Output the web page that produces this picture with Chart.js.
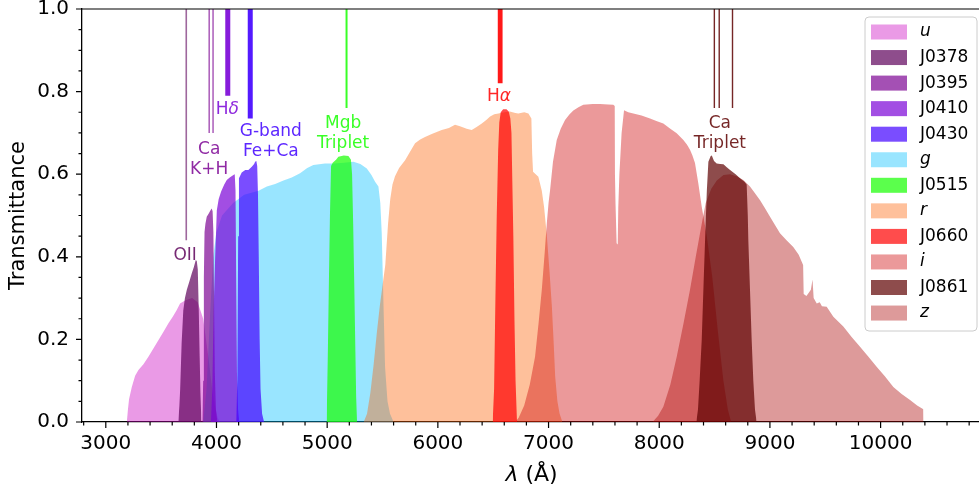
<!DOCTYPE html>
<html>
<head>
<meta charset="utf-8">
<script src="https://cdn.jsdelivr.net/npm/chart.js@4.4.1/dist/chart.umd.min.js"></script>
<style>
  html, body { margin: 0; padding: 0; background: #fff; overflow: hidden; }
</style>
</head>
<body>
<canvas id="filters" width="982" height="490"></canvas>
<script>
// transmission curves, [wavelength (A), transmittance]
const uCurve = [[3190,0],[3200,0.03],[3210,0.055],[3235,0.085],[3265,0.112],[3295,0.126],[3340,0.14],[3385,0.158],[3430,0.178],[3475,0.198],[3520,0.218],[3566,0.239],[3605,0.255],[3641,0.271],[3671,0.287],[3720,0.295],[3780,0.3],[3830,0.29],[3880,0.25],[3930,0.15],[3970,0.06],[4010,0.01],[4030,0]];
const j0378Curve = [[3655,0],[3665,0.04],[3672,0.08],[3685,0.19],[3700,0.27],[3715,0.3],[3732,0.32],[3755,0.34],[3777,0.36],[3795,0.375],[3813,0.392],[3822,0.39],[3831,0.37],[3840,0.27],[3848,0.16],[3855,0.07],[3864,0]];
const j0395Curve = [[3872,0],[3880,0.1],[3886,0.35],[3892,0.46],[3900,0.48],[3912,0.497],[3930,0.505],[3945,0.512],[3957,0.517],[3965,0.51],[3972,0.46],[3978,0.3],[3985,0.12],[3995,0.03],[4008,0]];
const j0410Curve = [[3950,0],[3962,0.08],[3975,0.28],[3987,0.39],[4003,0.513],[4020,0.54],[4042,0.558],[4070,0.575],[4093,0.586],[4120,0.592],[4153,0.598],[4165,0.6],[4172,0.56],[4178,0.35],[4185,0.12],[4195,0.03],[4205,0]];
const j0430Curve = [[4178,0],[4188,0.1],[4196,0.45],[4203,0.59],[4228,0.604],[4260,0.61],[4288,0.61],[4319,0.618],[4340,0.625],[4349,0.63],[4360,0.632],[4368,0.62],[4375,0.55],[4382,0.4],[4390,0.2],[4398,0.08],[4412,0.02],[4430,0]];
const gCurve = [[3880,0],[3910,0.08],[3940,0.25],[3970,0.4],[4000,0.46],[4050,0.5],[4150,0.53],[4250,0.55],[4380,0.56],[4455,0.57],[4530,0.576],[4605,0.585],[4680,0.592],[4755,0.602],[4820,0.615],[4875,0.622],[4980,0.626],[5056,0.626],[5150,0.628],[5237,0.63],[5300,0.625],[5358,0.614],[5400,0.598],[5433,0.582],[5463,0.57],[5480,0.53],[5493,0.457],[5508,0.295],[5523,0.134],[5545,0.05],[5568,0.02],[5600,0]];
const j0515Curve = [[4995,0],[5005,0.15],[5015,0.33],[5025,0.5],[5035,0.62],[5050,0.628],[5080,0.635],[5101,0.642],[5150,0.645],[5192,0.644],[5215,0.635],[5225,0.6],[5235,0.48],[5245,0.33],[5255,0.17],[5262,0.06],[5270,0]];
const rCurve = [[5330,0],[5360,0.02],[5390,0.07],[5420,0.14],[5450,0.22],[5475,0.28],[5495,0.32],[5525,0.38],[5550,0.48],[5570,0.54],[5590,0.575],[5613,0.595],[5650,0.615],[5704,0.634],[5750,0.655],[5794,0.675],[5840,0.684],[5884,0.69],[5950,0.698],[6035,0.707],[6100,0.712],[6155,0.72],[6200,0.716],[6260,0.71],[6306,0.707],[6350,0.714],[6397,0.723],[6440,0.732],[6472,0.74],[6510,0.745],[6547,0.747],[6600,0.75],[6650,0.752],[6700,0.748],[6727,0.747],[6780,0.75],[6818,0.747],[6845,0.735],[6852,0.65],[6860,0.606],[6908,0.594],[6939,0.56],[6960,0.52],[6985,0.45],[7010,0.36],[7030,0.28],[7045,0.2],[7060,0.11],[7080,0.05],[7100,0.02],[7125,0]];
const j0660Curve = [[6495,0],[6508,0.08],[6520,0.3],[6532,0.5],[6545,0.66],[6555,0.725],[6568,0.75],[6590,0.757],[6620,0.757],[6640,0.752],[6655,0.735],[6665,0.7],[6673,0.58],[6682,0.45],[6692,0.25],[6702,0.1],[6715,0]];
const iCurve = [[6700,0],[6730,0.01],[6780,0.04],[6830,0.09],[6878,0.158],[6910,0.24],[6939,0.32],[6965,0.41],[6984,0.48],[7000,0.53],[7014,0.562],[7040,0.63],[7074,0.683],[7110,0.71],[7149,0.731],[7190,0.745],[7224,0.754],[7270,0.762],[7314,0.768],[7400,0.77],[7465,0.77],[7540,0.769],[7585,0.768],[7598,0.765],[7600,0.6],[7605,0.53],[7615,0.433],[7625,0.43],[7630,0.52],[7640,0.6],[7660,0.7],[7682,0.755],[7720,0.75],[7766,0.747],[7840,0.742],[7917,0.735],[7980,0.728],[8037,0.723],[8100,0.71],[8158,0.699],[8218,0.683],[8250,0.672],[8278,0.659],[8300,0.645],[8323,0.627],[8353,0.578],[8384,0.521],[8430,0.45],[8480,0.35],[8530,0.22],[8580,0.1],[8620,0.03],[8650,0]];
const j0861Curve = [[8335,0],[8350,0.03],[8365,0.1],[8384,0.2],[8400,0.33],[8414,0.44],[8430,0.56],[8444,0.63],[8465,0.644],[8475,0.645],[8495,0.632],[8519,0.626],[8550,0.625],[8580,0.624],[8610,0.617],[8640,0.61],[8690,0.6],[8730,0.59],[8770,0.582],[8790,0.575],[8800,0.5],[8805,0.44],[8820,0.32],[8835,0.2],[8850,0.1],[8865,0.03],[8880,0]];
const zCurve = [[7940,0],[7990,0.015],[8037,0.037],[8100,0.09],[8158,0.158],[8220,0.24],[8278,0.32],[8330,0.4],[8384,0.48],[8420,0.53],[8470,0.565],[8520,0.585],[8580,0.598],[8640,0.6],[8700,0.595],[8760,0.586],[8820,0.57],[8870,0.552],[8911,0.537],[8950,0.52],[9001,0.497],[9050,0.475],[9091,0.457],[9150,0.44],[9211,0.424],[9260,0.405],[9300,0.38],[9305,0.31],[9330,0.305],[9370,0.32],[9385,0.345],[9395,0.3],[9423,0.287],[9450,0.29],[9470,0.28],[9513,0.279],[9573,0.255],[9663,0.231],[9740,0.205],[9814,0.182],[9890,0.158],[9964,0.134],[10040,0.11],[10115,0.085],[10190,0.068],[10266,0.053],[10330,0.04],[10386,0.031],[10388,0]];

const filterNames = ['u','J0378','J0395','J0410','J0430','g','J0515','r','J0660','i','J0861','z'];
const filterCurves = [uCurve, j0378Curve, j0395Curve, j0410Curve, j0430Curve, gCurve, j0515Curve, rCurve, j0660Curve, iCurve, j0861Curve, zCurve];

// spectral features: wavelengths, lower end of the marker, label text and label anchor
const featureNames = ['OII', 'Ca\nK+H', 'H*δ*', 'G-band\nFe+Ca', 'Mgb\nTriplet', 'H*α*', 'Ca\nTriplet'];
const featureWaves = [[3727], [3934, 3969], [4102], [4305], [5175], [6563], [8498, 8542, 8662]];
const featureEnds = [0.44, 0.70, 0.79, 0.735, 0.76, 0.82, 0.76];
const featureLabelX = [3717, 3934, 4097, 4491, 5144, 6553, 8548];
const featureLabelY = [0.402, 0.659, 0.757, 0.702, 0.722, 0.787, 0.722];

const xMajorTicks = [3000, 4000, 5000, 6000, 7000, 8000, 9000, 10000];
const yMajorTicks = [0.0, 0.2, 0.4, 0.6, 0.8, 1.0];

// styles
const filterStyle = {
  u:     { rgb: [202, 2, 192],  alpha: 0.4, layer: 0 },
  g:     { rgb: [0, 191, 255],  alpha: 0.4, layer: 1 },
  r:     { rgb: [252, 97, 4],   alpha: 0.4, layer: 2 },
  i:     { rgb: [205, 0, 2],    alpha: 0.4, layer: 3 },
  z:     { rgb: [170, 2, 2],    alpha: 0.4, layer: 4 },
  J0378: { rgb: [94, 2, 91],    alpha: 0.7, layer: 5 },
  J0395: { rgb: [125, 5, 148],  alpha: 0.7, layer: 6 },
  J0410: { rgb: [122, 3, 215],  alpha: 0.7, layer: 7 },
  J0430: { rgb: [65, 1, 255],   alpha: 0.7, layer: 8 },
  J0515: { rgb: [22, 255, 0],   alpha: 0.7, layer: 9 },
  J0660: { rgb: [255, 0, 0],    alpha: 0.7, layer: 10 },
  J0861: { rgb: [94, 0, 0],     alpha: 0.7, layer: 11 }
};
const featureStyle = [
  { filter: 'J0378', width: 1.6, alpha: 0.6 },
  { filter: 'J0395', width: 1.4, alpha: 0.7 },
  { filter: 'J0410', width: 5, alpha: 0.9 },
  { filter: 'J0430', width: 5, alpha: 0.9 },
  { filter: 'J0515', width: 2, alpha: 0.85 },
  { filter: 'J0660', width: 4.8, alpha: 0.9 },
  { filter: 'J0861', width: 1.4, alpha: 0.85 }
];
const FONT = '"DejaVu Sans", sans-serif';

const rgba = (c, a) => 'rgba(' + c.join(',') + ',' + a + ')';

const datasets = filterNames.map((name, k) => {
  const st = filterStyle[name];
  return {
    label: name,
    data: filterCurves[k].map(p => ({ x: p[0], y: p[1] })),
    backgroundColor: rgba(st.rgb, st.alpha),
    borderColor: 'transparent',
    borderWidth: 0,
    pointRadius: 0,
    fill: 'origin',
    tension: 0,
    order: 100 - st.layer
  };
});

featureWaves.forEach((waves, k) => {
  const st = featureStyle[k];
  waves.forEach(w => {
    datasets.push({
      label: '',
      data: [{ x: w, y: 1 }, { x: w, y: featureEnds[k] }],
      borderColor: rgba(filterStyle[st.filter].rgb, st.alpha),
      borderWidth: st.width,
      borderCapStyle: 'butt',
      pointRadius: 0,
      fill: false,
      order: 50
    });
  });
});

// text with *italic* parts, centred on (cx, cy)
function drawRich(ctx, str, cx, cy, size, color) {
  const parts = str.split('*');
  const fonts = parts.map((p, k) => (k % 2 ? 'italic ' : '') + size + 'px ' + FONT);
  const widths = parts.map((p, k) => { ctx.font = fonts[k]; return ctx.measureText(p).width; });
  let x = cx - widths.reduce((a, b) => a + b, 0) / 2;
  ctx.textAlign = 'left';
  ctx.textBaseline = 'middle';
  ctx.fillStyle = color;
  parts.forEach((p, k) => { ctx.font = fonts[k]; ctx.fillText(p, x, cy); x += widths[k]; });
}

const decorations = {
  id: 'decorations',
  afterDraw(chart) {
    const { ctx, chartArea: a, scales: { x, y } } = chart;
    ctx.save();

    // ticks and top spine
    ctx.strokeStyle = '#000';
    ctx.lineWidth = 1.2;
    ctx.beginPath();
    x.ticks.forEach(t => {
      const px = x.getPixelForValue(t.value);
      const len = xMajorTicks.includes(t.value) ? 6 : 3.5;
      ctx.moveTo(px, a.bottom);
      ctx.lineTo(px, a.bottom + len);
    });
    y.ticks.forEach(t => {
      const py = y.getPixelForValue(t.value);
      const major = yMajorTicks.some(m => Math.abs(m - t.value) < 1e-9);
      ctx.moveTo(a.left, py);
      ctx.lineTo(a.left - (major ? 6 : 3.5), py);
    });
    ctx.moveTo(a.left, a.top);
    ctx.lineTo(a.right, a.top);
    ctx.stroke();

    // feature labels
    featureNames.forEach((txt, k) => {
      const col = rgba(filterStyle[featureStyle[k].filter].rgb, 0.85);
      const cx = x.getPixelForValue(featureLabelX[k]);
      const cy = y.getPixelForValue(featureLabelY[k]);
      txt.split('\n').forEach((line, n) => drawRich(ctx, line, cx, cy + n * 19.5, 17, col));
    });

    // x axis title
    drawRich(ctx, '*λ* (Å)', (a.left + a.right) / 2, 475, 22, '#000');

    // legend
    const w = 112, h = 314;
    const lx = a.right - 4 - w, ly = a.top + 8;
    ctx.beginPath();
    ctx.roundRect(lx, ly, w, h, 4);
    ctx.fillStyle = 'rgba(255,255,255,0.8)';
    ctx.fill();
    ctx.strokeStyle = '#cccccc';
    ctx.lineWidth = 1;
    ctx.stroke();
    filterNames.forEach((name, k) => {
      const rowY = ly + 15 + k * 25.55;
      const st = filterStyle[name];
      ctx.fillStyle = rgba(st.rgb, st.alpha);
      ctx.fillRect(lx + 6, rowY - 7.5, 36, 15);
      ctx.font = (name.length === 1 ? 'italic ' : '') + '17px ' + FONT;
      ctx.fillStyle = '#000';
      ctx.textAlign = 'left';
      ctx.textBaseline = 'middle';
      ctx.fillText(name, lx + 55, rowY);
    });

    ctx.restore();
  }
};

const xTickValues = [];
for (let v = 2800; v <= 10800; v += 200) xTickValues.push(v);
const yTickValues = [];
for (let k = 0; k <= 20; k++) yTickValues.push(k * 0.05);

Chart.defaults.font.family = FONT;

new Chart(document.getElementById('filters'), {
  type: 'line',
  data: { datasets: datasets },
  options: {
    responsive: false,
    animation: false,
    events: [],
    layout: { padding: { top: 9, right: 1, left: 0, bottom: 0 } },
    plugins: { legend: { display: false }, tooltip: { enabled: false } },
    scales: {
      x: {
        type: 'linear',
        min: 2785,
        max: 10907,
        afterBuildTicks: s => { s.ticks = xTickValues.map(v => ({ value: v })); },
        afterFit: s => { s.height = 68; s.paddingLeft = 0; s.paddingRight = 0; },
        grid: { drawOnChartArea: false, drawTicks: false },
        border: { color: '#000', width: 1.3 },
        ticks: {
          autoSkip: false,
          maxRotation: 0,
          padding: 10,
          color: '#000',
          font: { size: 20 },
          callback: v => (xMajorTicks.includes(v) ? String(v) : '')
        }
      },
      y: {
        min: 0,
        max: 1,
        afterBuildTicks: s => { s.ticks = yTickValues.map(v => ({ value: v })); },
        afterFit: s => { s.width = 82; s.paddingTop = 0; s.paddingBottom = 0; },
        grid: { drawOnChartArea: false, drawTicks: false },
        border: { color: '#000', width: 1.3 },
        title: { display: true, text: 'Transmittance', color: '#000', font: { size: 21 }, padding: { top: 6, bottom: 0 } },
        ticks: {
          autoSkip: false,
          padding: 13,
          color: '#000',
          font: { size: 20 },
          callback: v => {
            const m = yMajorTicks.find(t => Math.abs(t - v) < 1e-9);
            return m === undefined ? '' : m.toFixed(1);
          }
        }
      }
    }
  },
  plugins: [decorations]
});
</script>
</body>
</html>
